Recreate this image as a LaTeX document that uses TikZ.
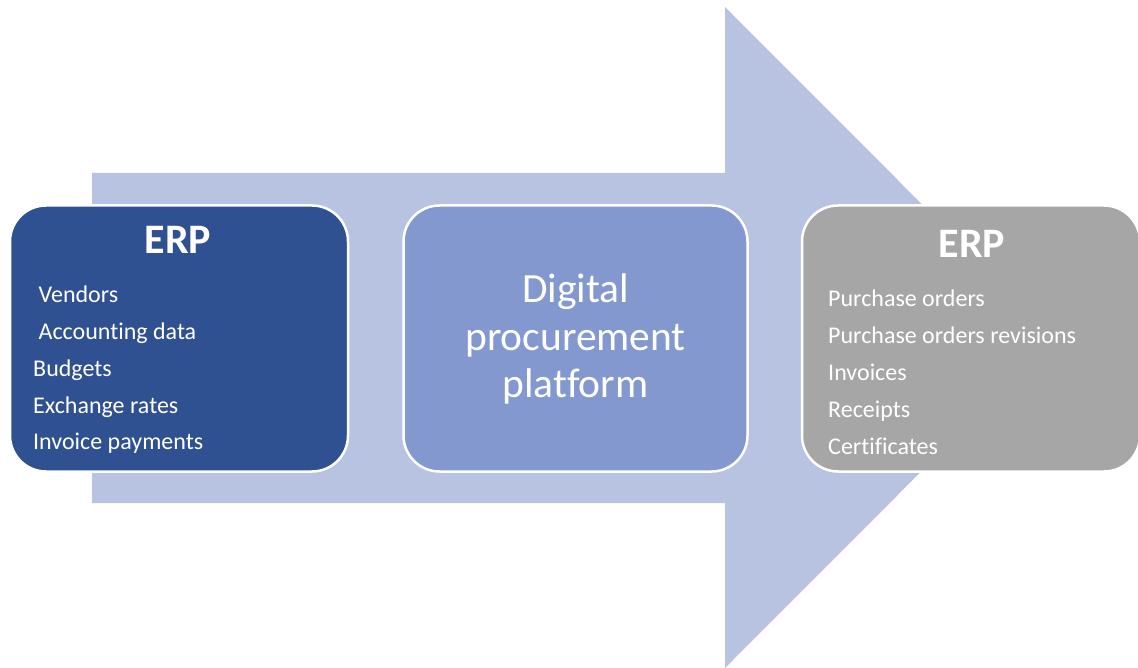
\documentclass[tikz,border=0pt]{standalone}
\usepackage{fontspec}
\setmainfont{Carlito}[Ligatures=NoCommon]
\definecolor{arrowc}{HTML}{B7C3E1}
\definecolor{leftc}{HTML}{2F5091}
\definecolor{midc}{HTML}{8298CF}
\definecolor{rightc}{HTML}{A6A6A6}
\begin{document}
\begin{tikzpicture}[x=1pt,y=-1pt,
  box/.style={rectangle, rounded corners=36pt, draw=white, line width=2.5pt,
    minimum width=338pt, minimum height=266pt, inner sep=0pt},
  title/.style={anchor=base, inner sep=0pt, text=white,
    font=\fontsize{42}{47}\selectfont\bfseries},
  mid/.style={anchor=base, inner sep=0pt, text=white,
    font=\fontsize{41.5}{47}\selectfont},
  item/.style={anchor=base west, inner sep=0pt, text=white,
    font=\fontsize{24}{28}\selectfont}]
\useasboundingbox (0,0) rectangle (1138,668);
\fill[arrowc] (92,173) -- (725,173) -- (725,7) -- (1055,337.5) -- (725,668)
  -- (725,503) -- (92,503) -- cycle;
\node[box, fill=leftc] (lbox) at (179,338.5) {};
\node[box, fill=midc, minimum width=344pt] (mbox) at (575.5,338.5) {};
\node[box, fill=rightc] (rbox) at (971,338.5) {};
% left
\node[title] (lt) at (178,254) {ERP};
\node[item] (l1) at (33,303) {\ Vendors};
\node[item] (l2) at (33,340) {\ Accounting data};
\node[item] (l3) at (33,377) {Budgets};
\node[item] (l4) at (33,413) {Exchange rates};
\node[item] (l5) at (33,449) {Invoice payments};
% middle
\node[mid] (m1) at (575.5,303) {Digital};
\node[mid] (m2) at (575.5,350) {procurement};
\node[mid] (m3) at (575.5,397) {platform};
% right
\node[title] (rt) at (972,258) {ERP};
\node[item] (r1) at (828,307) {Purchase orders};
\node[item] (r2) at (828,344) {Purchase orders revisions};
\node[item] (r3) at (828,380) {Invoices};
\node[item] (r4) at (828,417) {Receipts};
\node[item] (r5) at (828,454) {Certificates};
\end{tikzpicture}
\end{document}
